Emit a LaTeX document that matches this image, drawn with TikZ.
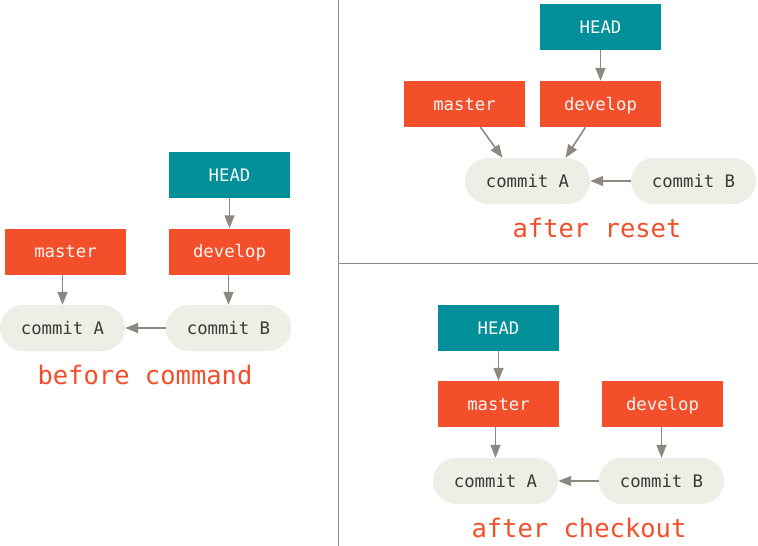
\documentclass[tikz,border=0pt]{standalone}
\usepackage{fontspec}
\setmonofont{DejaVu Sans Mono}
\usetikzlibrary{arrows.meta}
\definecolor{branchred}{HTML}{F34F2B}
\definecolor{headteal}{HTML}{01909A}
\definecolor{commitfill}{HTML}{EEEDE6}
\definecolor{linkgray}{HTML}{8D8981}
\definecolor{inkdark}{HTML}{3A3A36}
\definecolor{rulegray}{HTML}{8A8A8A}
\begin{document}
\begin{tikzpicture}[x=1pt,y=-1pt,
  every node/.style={font=\ttfamily\fontsize{17.3}{19}\selectfont, inner sep=0pt,
    text height=12.6pt, text depth=0pt},
  branch/.style={fill=branchred, text=white!93!gray, minimum width=121pt, minimum height=46pt},
  headref/.style={fill=headteal, text=white!93!gray, minimum width=121pt, minimum height=46pt},
  commit/.style={fill=commitfill, text=inkdark, rounded corners=23pt, minimum width=125pt, minimum height=46pt},
  caption/.style={text=branchred, font=\ttfamily\fontsize{25.5}{28}\selectfont, text height=18.6pt},
  link/.style={draw=linkgray, line width=1.6pt, -{Triangle[width=10pt,length=13pt]}},
  divider/.style={draw=rulegray, line width=1.3pt}]
\fill[white] (0,0) rectangle (758,546);
\useasboundingbox (0,0) rectangle (758,546);

% panel separators
\coordinate (vtop) at (338.5,0);
\coordinate (vbot) at (338.5,546);
\coordinate (hl) at (338.5,263.5);
\coordinate (hr) at (758,263.5);
\draw[divider] (vtop) -- (vbot);
\draw[divider] (hl) -- (hr);

% before command
\node[headref] (h1) at (229.5,175) {HEAD};
\node[branch] (d1) at (229.5,251.5) {develop};
\node[branch] (m1) at (65.5,251.5) {master};
\node[commit] (a1) at (62.5,328) {commit A};
\node[commit] (b1) at (228.5,328) {commit B};
\node[caption] (c1) at (145,375) {before command};
\draw[link] (h1) -- (d1);
\draw[link] (m1.south -| a1.north) -- (a1.north);
\draw[link] (d1.south -| b1.north) -- (b1.north);
\draw[link] (b1) -- (a1);

% after reset
\node[headref] (h2) at (600.5,27) {HEAD};
\node[branch] (m2) at (464.5,104) {master};
\node[branch] (d2) at (600.5,104) {develop};
\node[commit] (a2) at (527.5,181) {commit A};
\node[commit] (b2) at (693.5,181) {commit B};
\node[caption] (c2) at (597,228) {after reset};
\draw[link] (h2) -- (d2);
\draw[link] ([xshift=16pt]m2.south) -- ([xshift=-25pt]a2.north);
\draw[link] ([xshift=-15pt]d2.south) -- ([xshift=38pt]a2.north);
\draw[link] (b2) -- (a2);

% after checkout
\node[headref] (h3) at (498.5,328) {HEAD};
\node[branch] (m3) at (498.5,404) {master};
\node[branch] (d3) at (662.5,404) {develop};
\node[commit] (a3) at (495.5,481) {commit A};
\node[commit] (b3) at (661.5,481) {commit B};
\node[caption] (c3) at (579,528) {after checkout};
\draw[link] (h3) -- (m3);
\draw[link] (m3.south -| a3.north) -- (a3.north);
\draw[link] (d3.south -| b3.north) -- (b3.north);
\draw[link] (b3) -- (a3);
\end{tikzpicture}
\end{document}
